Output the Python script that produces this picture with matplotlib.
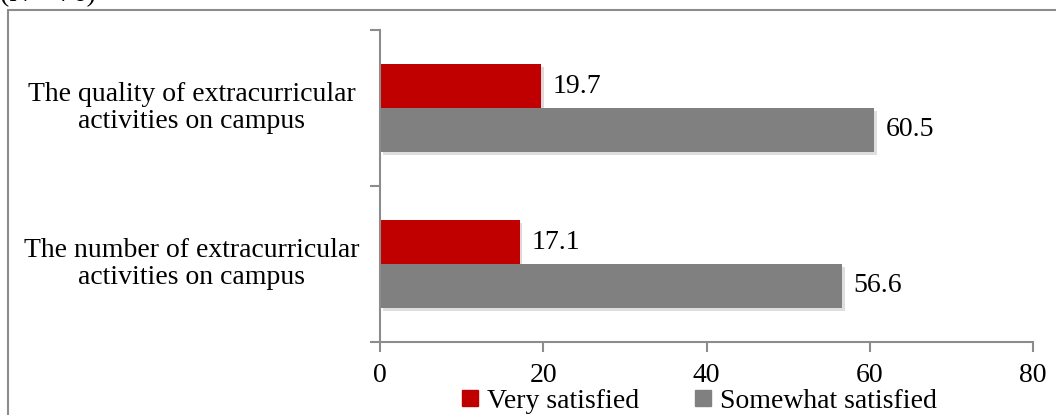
import matplotlib
matplotlib.use("Agg")
import matplotlib.pyplot as plt
import matplotlib.patheffects as pe
from matplotlib.patches import Rectangle
from matplotlib.lines import Line2D
from matplotlib.transforms import blended_transform_factory

categories = ["The number of extracurricular\nactivities on campus",
              "The quality of extracurricular\nactivities on campus"]
very = [17.1, 19.7]
somewhat = [56.6, 60.5]
series_names = ["Very satisfied", "Somewhat satisfied"]
xticks = [0, 20, 40, 60, 80]

red = "#C00000"
grey = "#808080"
axis_col = "#8C8C8C"

plt.rcParams["font.family"] = ["Liberation Serif", "DejaVu Serif"]
fs = 20

fig = plt.figure(figsize=(10.56, 4.15), dpi=100)
ax = fig.add_axes([380 / 1056, 1 - 342 / 415, (1033 - 380) / 1056, 312 / 415])

# frame around the whole chart (runs off the right and bottom edges)
fig.patches.append(Rectangle((8 / 1056, -0.2), 1.2, 0.2 + (1 - 10 / 415),
                             transform=fig.transFigure, fill=False,
                             edgecolor=axis_col, linewidth=1.5))
fig.text(0.0, 1.012, "(N = 76)", fontsize=fs, va="center", ha="left")

pos = [0, 1]
off = 0.141
h = 0.282
shadow = [pe.SimplePatchShadow(offset=(2, -2.5), alpha=0.15), pe.Normal()]
for i, p in enumerate(pos):
    ax.barh(p + off, very[i], height=h, color=red, path_effects=shadow)
    ax.barh(p - off, somewhat[i], height=h, color=grey, path_effects=shadow)
    ax.annotate(f"{very[i]:.1f}", (very[i], p + off), xytext=(8.5, 0),
                textcoords="offset points", va="center", ha="left", fontsize=fs)
    ax.annotate(f"{somewhat[i]:.1f}", (somewhat[i], p - off), xytext=(8.5, 0),
                textcoords="offset points", va="center", ha="left", fontsize=fs)

ax.set_xlim(0, 80)
ax.set_ylim(-0.5, 1.5)
ax.set_xticks(xticks)
ax.set_xticklabels([str(t) for t in xticks], fontsize=fs)
ax.set_yticks([-0.5, 0.5, 1.5])
ax.set_yticklabels([])
ax.tick_params(axis="both", direction="out", length=7, width=1.5, color=axis_col)
ax.tick_params(axis="x", pad=8)
for s in ["top", "right"]:
    ax.spines[s].set_visible(False)
for s in ["left", "bottom"]:
    ax.spines[s].set_color(axis_col)
    ax.spines[s].set_linewidth(1.5)

# category labels centred in the left margin
tr = blended_transform_factory(fig.transFigure, ax.transData)
for p, c in zip(pos, categories):
    ax.text(192 / 1056, p, c, transform=tr, ha="center", va="center",
            multialignment="center", fontsize=fs, linespacing=1.1)

handles = [Line2D([], [], marker="s", linestyle="none", markersize=11, color=red),
           Line2D([], [], marker="s", linestyle="none", markersize=11, color=grey)]
fig.legend(handles, series_names, loc="center", bbox_to_anchor=(698 / 1056, 1 - 401 / 415),
           ncol=2, frameon=False, fontsize=fs, handletextpad=0.2, columnspacing=1.9,
           handlelength=0.8, borderpad=0)

fig.savefig("out.png", dpi=100)
